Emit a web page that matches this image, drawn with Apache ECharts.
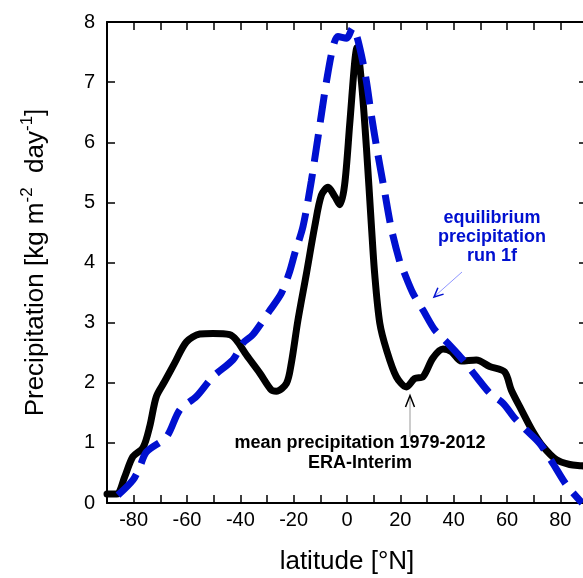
<!DOCTYPE html>
<html>
<head>
<meta charset="utf-8">
<title>Precipitation vs latitude</title>
<script src="https://cdn.jsdelivr.net/npm/echarts@6/dist/echarts.min.js"></script>
<style>
html,body{margin:0;padding:0;background:#fff;}
#chart{width:583px;height:578px;}
</style>
</head>
<body>
<div id="chart"></div>
<script>
// ERA-Interim 1979-2012 mean precipitation (latitude, value)
var eraLat = [-90,-86.3,-83.4,-80.3,-76.5,-74,-71.5,-68.4,-64.6,-60.2,-55.2,-50.3,-44,-41.5,-37.7,-32.7,-28.4,-26.5,-22.7,-20.9,-18.4,-15.2,-12.1,-9.6,-7.1,-4.6,-2.7,-0.9,1,2.9,3.7,5.4,7.3,9.1,10.4,12.3,14.8,18.5,22.3,25.4,28.5,32.2,36,39.1,42.9,48.5,53.5,59.1,61.6,65.4,69.7,73.5,78.5,83.5,87.9,90];
var eraVal = [0.15,0.15,0.43,0.77,0.92,1.27,1.77,2.02,2.33,2.68,2.81,2.82,2.8,2.71,2.46,2.16,1.88,1.86,1.99,2.32,3.04,3.82,4.6,5.12,5.25,5.1,4.96,5.29,6.29,7.34,7.57,7.01,5.9,4.65,3.8,2.99,2.55,2.1,1.93,2.07,2.1,2.41,2.56,2.52,2.36,2.38,2.27,2.18,1.88,1.55,1.19,0.94,0.72,0.64,0.62,0.61];
// equilibrium precipitation, run 1f
var eqLat = [-85.9,-80.3,-77.7,-75.2,-67.7,-62.7,-56.5,-50.3,-42.8,-39,-35.3,-29,-24.6,-21.5,-19.6,-16.5,-13.4,-11.5,-9.6,-7.7,-5.3,-3.4,-0.2,2.2,3.5,5.4,7.3,9.1,11.6,14.1,16.6,19.8,21,24.7,28.5,32.9,37.3,42.9,48.5,53.5,58.5,62.9,67.3,72.3,77.2,82.3,88.2];
var eqVal = [0.13,0.38,0.6,0.85,1.1,1.55,1.77,2.1,2.38,2.66,2.8,3.2,3.49,3.85,4.15,4.6,5.35,5.9,6.46,7.01,7.57,7.76,7.73,7.9,7.79,7.45,7.01,6.46,5.79,5.18,4.57,4.01,3.88,3.49,3.21,2.88,2.68,2.41,2.1,1.83,1.66,1.41,1.21,0.99,0.66,0.3,0];
var xTicks = [-90,90,10];
var yTicks = [0,8,1];

function pairs(a,b){
    var out=[];
    for(var i=0;i<a.length;i++){ out.push([a[i],b[i]]); }
    return out;
}

var myChart = echarts.init(document.getElementById('chart'));
var font = 'Liberation Sans, Arial, Helvetica, sans-serif';
var tick = {show:true,inside:true,length:8,lineStyle:{color:'#000',width:1.5}};
var line = {show:true,onZero:false,lineStyle:{color:'#000',width:2}};

var option = {
    animation:false,
    grid:{left:107,top:22,width:480,height:481,containLabel:false,outerBoundsMode:'none'},
    xAxis:[
        {
            type:'value',min:xTicks[0],max:xTicks[1],interval:xTicks[2],
            position:'bottom',
            axisLine:line,axisTick:tick,splitLine:{show:false},
            axisLabel:{color:'#000',fontSize:20,fontFamily:font,margin:7,
                formatter:function(v){ return v%20===0 ? String(v) : ''; }},
            name:'latitude [°N]',nameLocation:'middle',nameGap:46,
            nameTextStyle:{color:'#000',fontSize:26,fontFamily:font}
        },
        {
            type:'value',min:xTicks[0],max:xTicks[1],interval:xTicks[2],
            position:'top',
            axisLine:line,axisTick:tick,splitLine:{show:false},axisLabel:{show:false}
        }
    ],
    yAxis:[
        {
            type:'value',min:yTicks[0],max:yTicks[1],interval:yTicks[2],
            position:'left',
            axisLine:line,axisTick:tick,splitLine:{show:false},
            axisLabel:{color:'#000',fontSize:20,fontFamily:font,margin:12},
            name:'Precipitation [kg m{sup|-2}  day{sup|-1}]',
            nameLocation:'middle',nameRotate:90,nameGap:54,
            nameTextStyle:{color:'#000',fontSize:26,fontFamily:font,lineHeight:34,
                rich:{sup:{fontSize:17,fontFamily:font,color:'#000',verticalAlign:'top',lineHeight:34}}}
        },
        {
            type:'value',min:yTicks[0],max:yTicks[1],interval:yTicks[2],
            position:'right',
            axisLine:line,axisTick:tick,splitLine:{show:false},axisLabel:{show:false}
        }
    ],
    series:[
        {
            name:'ERA-Interim',type:'line',showSymbol:false,smooth:0.3,
            data:pairs(eraLat,eraVal),
            lineStyle:{color:'#000',width:7,cap:'round',join:'round'}
        },
        {
            name:'equilibrium run 1f',type:'line',showSymbol:false,smooth:0.3,
            data:pairs(eqLat,eqVal),
            lineStyle:{color:'#0010d0',width:7,type:[28,12],cap:'butt'}
        }
    ],
    graphic:[
        {type:'text',x:492,y:237,style:{text:'equilibrium\nprecipitation\nrun 1f',
            fill:'#0010d0',font:'bold 18px '+font,textAlign:'center',textVerticalAlign:'middle',lineHeight:19}},
        {type:'polyline',shape:{points:[[462,272],[435,296]]},style:{stroke:'#8f96ff',lineWidth:1}},
        {type:'polyline',shape:{points:[[443.6,294.1],[434,297],[437.9,287.8]]},style:{stroke:'#0010d0',lineWidth:1.5,fill:null}},
        {type:'text',x:360,y:453,style:{text:'mean precipitation 1979-2012\nERA-Interim',
            fill:'#000',font:'bold 18px '+font,textAlign:'center',textVerticalAlign:'middle',lineHeight:20}},
        {type:'polyline',shape:{points:[[410,437],[410,397]]},style:{stroke:'#999',lineWidth:1}},
        {type:'polyline',shape:{points:[[405.5,407],[410,395.5],[414.5,407]]},style:{stroke:'#000',lineWidth:1.5,fill:null}}
    ]
};
myChart.setOption(option);
</script>
</body>
</html>
